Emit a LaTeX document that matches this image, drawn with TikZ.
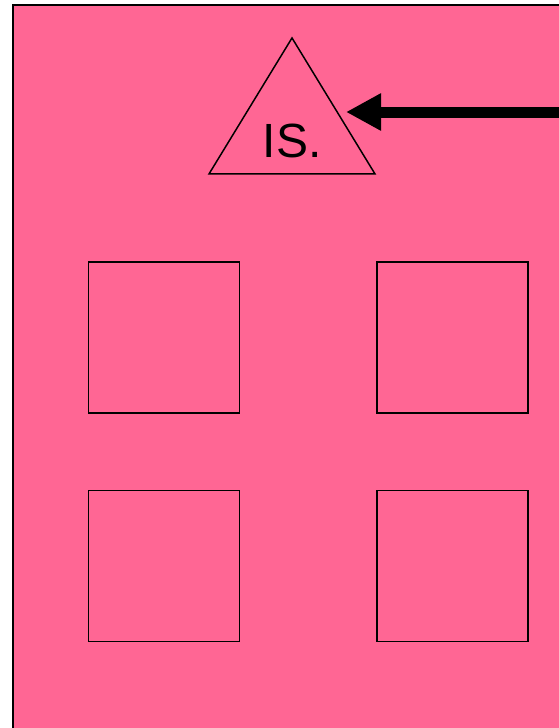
\documentclass[tikz,border=0pt]{standalone}
\usepackage{fontspec}
\setmainfont{Liberation Sans}
\usetikzlibrary{arrows.meta,positioning,shapes.geometric}
\definecolor{roompink}{RGB}{255,102,148}
\tikzset{
  window/.style={draw=black,fill=roompink,line width=1.5pt,
    minimum width=151pt,minimum height=151pt,inner sep=0pt},
  signtri/.style={isosceles triangle,isosceles triangle stretches,
    shape border rotate=90,draw=black,fill=roompink,line width=1.5pt,
    minimum width=166pt,minimum height=136pt,inner sep=0pt},
  signtext/.style={font=\fontsize{48}{56}\selectfont,inner sep=0pt},
  feedarrow/.style={draw=black,line width=11pt,-{Triangle[length=35pt,width=35pt]}}
}
\begin{document}
\begin{tikzpicture}[x=1pt,y=-1pt,node distance=76pt and 136pt]
  \useasboundingbox[fill=white] (0,0) rectangle (558,728);
  \draw[fill=roompink,line width=2pt] (13,5) rectangle (575,745);

  \node[signtri,anchor=apex] (sign) at (292,36) {};
  \node[signtext,anchor=base] (signlabel) at (292,157) {IS.};

  \node[window] (win1) at (164,337.5) {};
  \node[window,right=of win1] (win2) {};
  \node[window,below=of win1] (win3) {};
  \node[window,right=of win3] (win4) {};

  \coordinate (feed) at (575,112);
  \coordinate (signhit) at (346,112);
  \draw[feedarrow] (feed) -- (signhit);
\end{tikzpicture}
\end{document}
